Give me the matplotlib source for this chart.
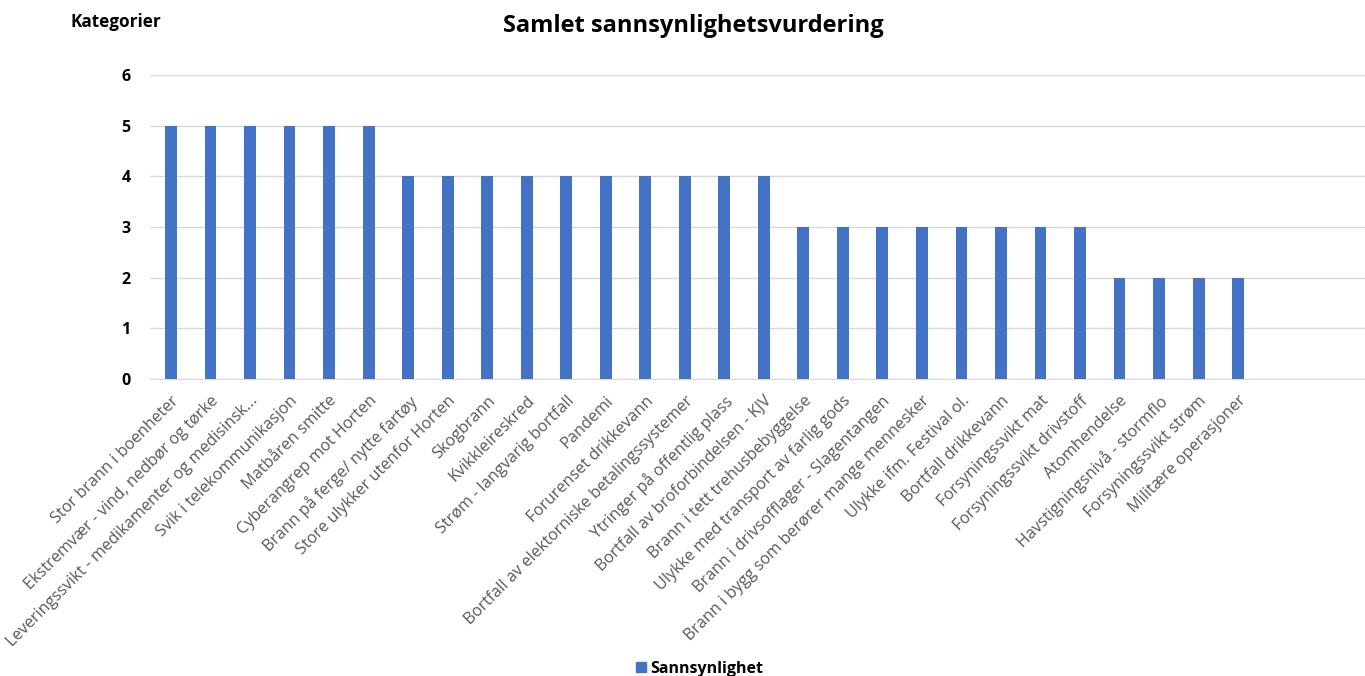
import numpy as np
import matplotlib
matplotlib.use("Agg")
from matplotlib import pyplot as plt
from matplotlib.patches import Patch

plt.rcParams['font.family'] = ['Open Sans', 'DejaVu Sans']

## Data ##
kategorier = [
    "Stor brann i boenheter",
    "Ekstremvær - vind, nedbør og tørke",
    "Leveringssvikt - medikamenter og medisinsk...",
    "Svik i telekommunikasjon",
    "Matbåren smitte",
    "Cyberangrep mot Horten",
    "Brann på ferge/ nytte fartøy",
    "Store ulykker utenfor Horten",
    "Skogbrann",
    "Kvikkleireskred",
    "Strøm - langvarig bortfall",
    "Pandemi",
    "Forurenset drikkevann",
    "Bortfall av elektorniske betalingssystemer",
    "Ytringer på offentlig plass",
    "Bortfall av broforbindelsen - KJV",
    "Brann i tett trehusbebyggelse",
    "Ulykke med transport av farlig gods",
    "Brann i drivsofflager - Slagentangen",
    "Brann i bygg som berører mange mennesker",
    "Ulykke ifm. Festival ol.",
    "Bortfall drikkevann",
    "Forsyningssvikt mat",
    "Forsyningssvikt drivstoff",
    "Atomhendelse",
    "Havstigningsnivå - stormflo",
    "Forsyningssvikt strøm",
    "Militære operasjoner",
    "", "", "",
]
sannsynlighet = [5, 5, 5, 5, 5, 5,
                 4, 4, 4, 4, 4, 4, 4, 4, 4, 4,
                 3, 3, 3, 3, 3, 3, 3, 3,
                 2, 2, 2, 2,
                 np.nan, np.nan, np.nan]
yticks = [0, 1, 2, 3, 4, 5, 6]

fig = plt.figure(figsize=(13.65, 6.76), dpi=100)
ax = fig.add_axes([150/1365, 1-379/676, 1-150/1365, (379-75)/676])

x = np.arange(len(kategorier))
ax.bar(x, sannsynlighet, width=0.3, color='#4472C4', zorder=3)

ax.set_xlim(-0.53, 30.21)
ax.set_ylim(0, 6)
ax.set_yticks(yticks)
ax.set_yticklabels([str(v) for v in yticks], fontsize=11.5, fontweight='bold', color='black')
ax.yaxis.grid(True, color='#d9d9d9', linewidth=1, zorder=0)
ax.tick_params(axis='both', length=0)
ax.tick_params(axis='y', pad=14)
for s in ['top', 'right', 'left']:
    ax.spines[s].set_visible(False)
ax.spines['bottom'].set_color('#d9d9d9')

ax.set_xticks(x)
ax.set_xticklabels(kategorier, rotation=45, ha='right', va='top',
                   rotation_mode='anchor', fontsize=11.7, color='#595959')
ax.tick_params(axis='x', pad=10)

fig.text(0.508, 0.962, "Samlet sannsynlighetsvurdering", ha='center', va='center',
         fontsize=17, fontweight='bold')
fig.text(70/1365, 1-22/676, "Kategorier", ha='left', va='center',
         fontsize=12.3, fontweight='bold')

fig.legend(handles=[Patch(color='#4472C4', label='Sannsynlighet')],
           loc='center', bbox_to_anchor=(700/1365, 1-669/676), frameon=False,
           prop={'weight': 'bold', 'size': 11.5}, handlelength=0.6, handleheight=0.6,
           handletextpad=0.3)

fig.savefig("out.png", dpi=100)
